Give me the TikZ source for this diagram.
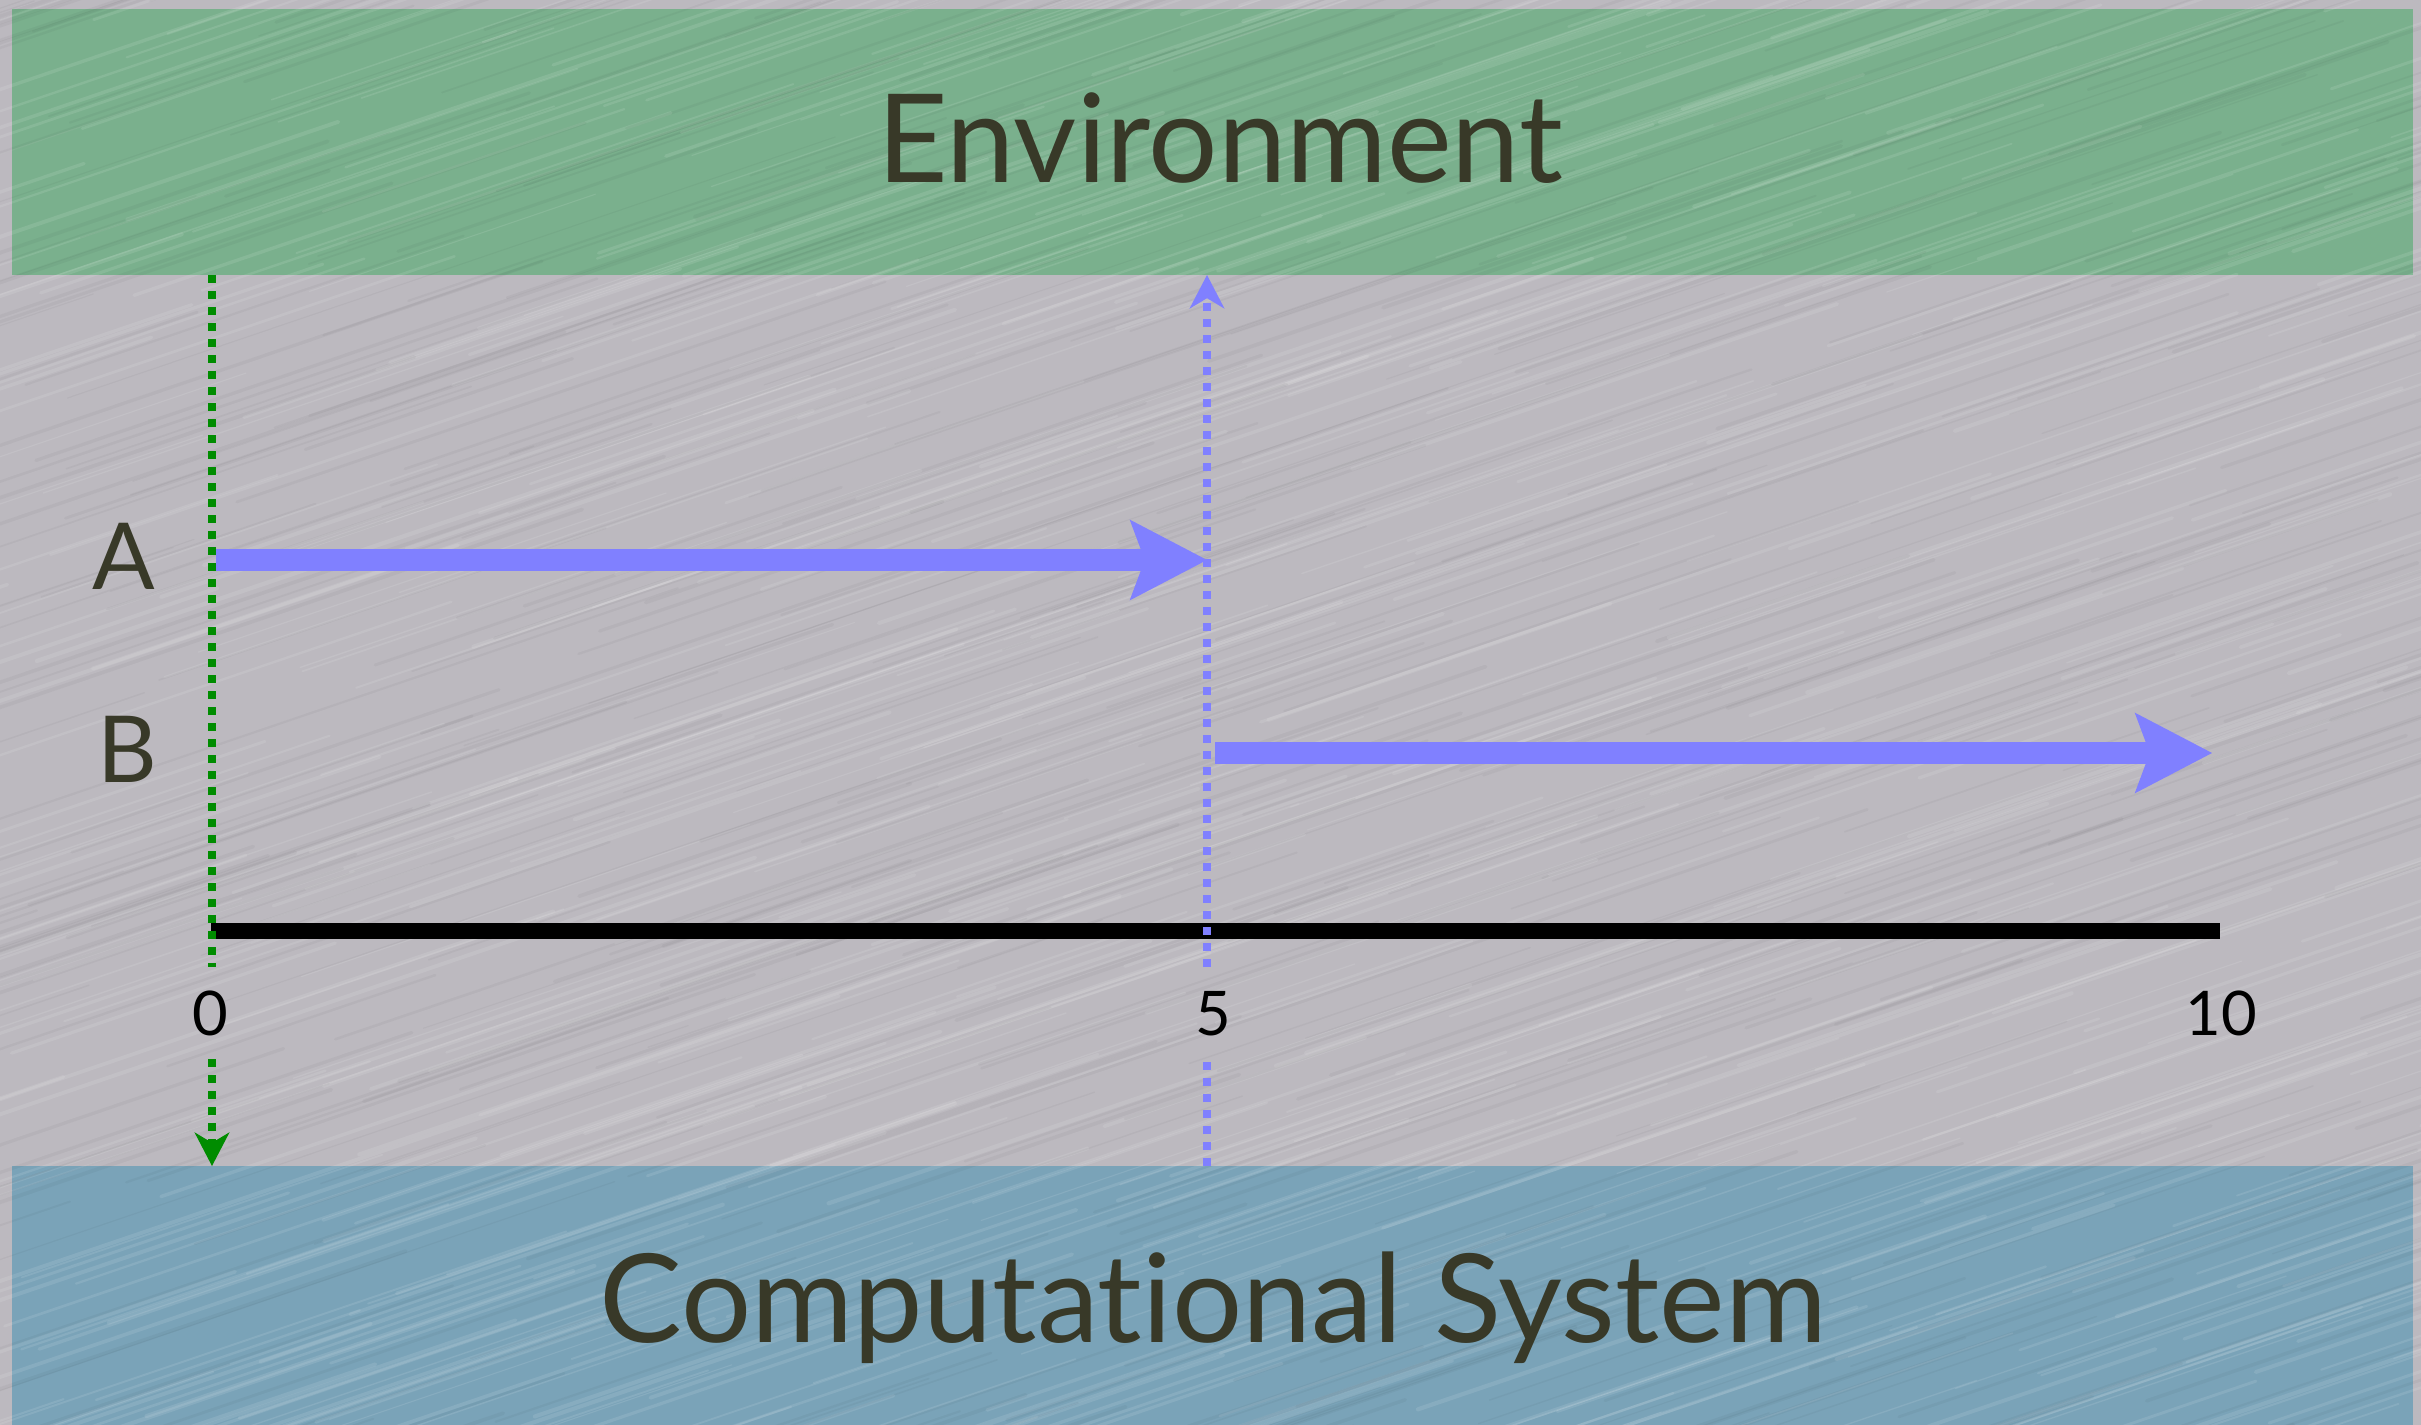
\documentclass[tikz,border=0pt]{standalone}
\usepackage{fontspec}
\setmainfont{Lato}[Ligatures={NoCommon}]
\usetikzlibrary{arrows.meta}
\definecolor{bgGrey}{RGB}{188,185,191}
\definecolor{envGreen}{RGB}{122,176,141}
\definecolor{compBlue}{RGB}{122,163,184}
\definecolor{txtDark}{RGB}{56,57,40}
\definecolor{arrowBlue}{RGB}{128,128,255}
\definecolor{dotGreen}{RGB}{0,140,0}
\tikzset{
  panel/.style={draw=none, inner sep=0pt, minimum width=23.99cm},
  bigtitle/.style={inner sep=0pt, anchor=base west, text=txtDark, font=\fontsize{35pt}{40pt}\selectfont},
  rowlabel/.style={inner sep=0pt, anchor=base, text=txtDark, font=\fontsize{26.3pt}{30pt}\selectfont},
  ticklabel/.style={inner sep=6.6pt, anchor=base, text=black, font=\fontsize{17.5pt}{20pt}\selectfont},
  timearrow/.style={draw=arrowBlue, line width=6pt,
    -{Stealth[length=22pt, width=23pt, inset=4.3pt, line width=0pt]}},
  dotline/.style={line width=2.5pt, dash pattern=on 2.2pt off 2.35pt},
  smalltip/.style={-{Stealth[length=9.6pt, width=10pt, inset=3pt, line width=0pt]}},
  axisline/.style={draw=black, line width=4.55pt},
  streak/.style={line width=#1, line cap=round}
}
\begin{document}
\begin{tikzpicture}[x=0.01cm, y=-0.01cm]
\useasboundingbox (0,0) rectangle (2421,1425);
\fill[bgGrey] (0,0) rectangle (2421,1425);

% panels
\node[panel, fill=envGreen, minimum height=2.66cm] (env) at (1212.5,142) {};
\node[panel, fill=compBlue, minimum height=2.59cm] (comp) at (1212.5,1295.5) {};

% brushed texture
\begin{scope}
\clip (0,0) rectangle (2421,1425);
\pgfmathsetseed{7}
\foreach \i in {1,...,600}{
  \pgfmathsetmacro{\sx}{rnd*2900-400}
  \pgfmathsetmacro{\sy}{rnd*1700}
  \pgfmathsetmacro{\sl}{250+rnd*650}
  \pgfmathsetmacro{\sw}{0.3+rnd*0.9}
  \draw[streak=\sw pt, white, opacity=0.10] (\sx,\sy) -- ++(\sl,-0.34*\sl);
}
\foreach \i in {1,...,450}{
  \pgfmathsetmacro{\sx}{rnd*2900-400}
  \pgfmathsetmacro{\sy}{rnd*1700}
  \pgfmathsetmacro{\sl}{250+rnd*650}
  \pgfmathsetmacro{\sw}{0.3+rnd*0.8}
  \draw[streak=\sw pt, black, opacity=0.035] (\sx,\sy) -- ++(\sl,-0.34*\sl);
}
\end{scope}

\node[bigtitle] (envtext) at (877,183) {\resizebox{6.85cm}{\height}{Environment}};
\node[bigtitle] (comptext) at (599,1342) {\resizebox{12.26cm}{\height}{Computational System}};

% row labels
\node[rowlabel] (labA) at (124,590) {A};
\node[rowlabel] (labB) at (127,782) {B};

% axis
\coordinate (t0) at (211,931);
\coordinate (t10) at (2220,931);
\draw[axisline] (t0) -- (t10);
\node[ticklabel] (n0) at (210,1035) {0};
\node[ticklabel] (n5) at (1213,1035) {5};
\node[ticklabel] (n10) at (2221,1035) {10};

% green dotted (environment -> system)
\coordinate (gTop) at (212,275);
\coordinate (gBot) at (212,1166);
\draw[dotline, draw=dotGreen] (gTop) -- (gTop |- n0.north);
\draw[dotline, draw=dotGreen, smalltip] (gBot |- n0.south) -- (gBot);

% blue dotted (system -> environment)
\coordinate (bTop) at (1207,275);
\coordinate (bBot) at (1207,1166);
\draw[dotline, draw=arrowBlue] (bBot) -- (bBot |- n5.south);
\draw[dotline, draw=arrowBlue, smalltip] (bTop |- n5.north) -- (bTop);

% time arrows
\coordinate (aStart) at (216,560);
\coordinate (aEnd) at (1207,560);
\coordinate (bStart) at (1215,753);
\coordinate (bEnd) at (2212,753);
\draw[timearrow] (aStart) -- (aEnd);
\draw[timearrow] (bStart) -- (bEnd);
\end{tikzpicture}
\end{document}
